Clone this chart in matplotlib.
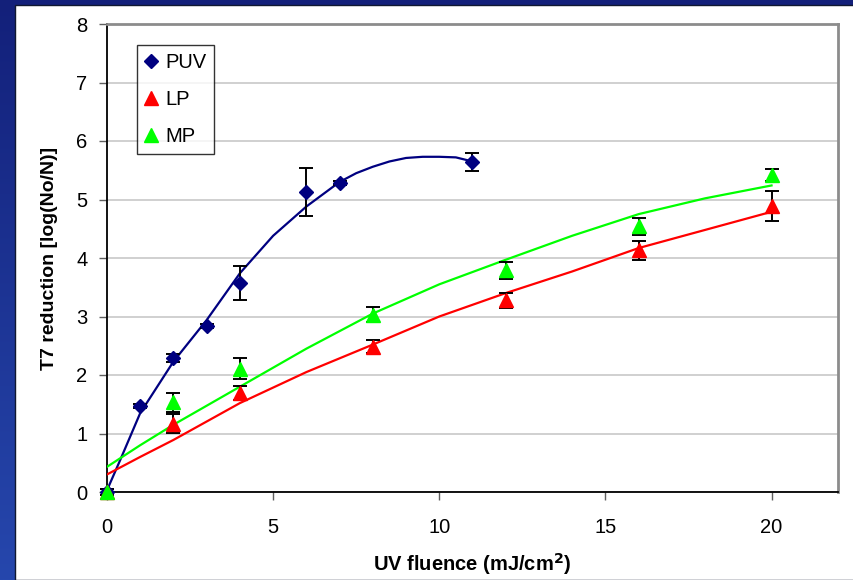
import numpy as np
import matplotlib
matplotlib.use("Agg")
import matplotlib.pyplot as plt
from matplotlib.patches import Rectangle
from matplotlib.colors import LinearSegmentedColormap

plt.rcParams['font.family'] = ['Liberation Sans', 'DejaVu Sans']

# Measured points (mean log reduction and error)
puv_x = [0, 1, 2, 3, 4, 6, 7, 11]
puv_y = [0.0, 1.47, 2.29, 2.84, 3.58, 5.12, 5.28, 5.64]
puv_err = [0.05, 0.04, 0.07, 0.04, 0.29, 0.41, 0.03, 0.15]

lp_x = [0, 2, 4, 8, 12, 16, 20]
lp_y = [0.0, 1.17, 1.69, 2.48, 3.28, 4.13, 4.89]
lp_err = [0.05, 0.16, 0.12, 0.11, 0.13, 0.16, 0.25]

mp_x = [0, 2, 4, 8, 12, 16, 20]
mp_y = [0.0, 1.53, 2.11, 3.03, 3.79, 4.54, 5.42]
mp_err = [0.05, 0.16, 0.18, 0.13, 0.15, 0.14, 0.10]

# Fitted model curves
puv_fit_x = [0, 0.4, 1, 2, 3, 4, 5, 6, 7, 7.5, 8, 8.5, 9, 9.5, 10, 10.5, 11]
puv_fit_y = [0.03, 0.55, 1.35, 2.23, 2.94, 3.74, 4.38, 4.88, 5.30, 5.45, 5.56, 5.65,
             5.71, 5.73, 5.73, 5.72, 5.65]

lp_fit_x = [0, 1, 2, 4, 6, 8, 10, 12, 14, 16, 18, 20]
lp_fit_y = [0.30, 0.60, 0.89, 1.52, 2.05, 2.52, 3.00, 3.40, 3.77, 4.17, 4.48, 4.79]

mp_fit_x = [0, 1, 2, 4, 6, 8, 10, 12, 14, 16, 18, 20]
mp_fit_y = [0.43, 0.80, 1.15, 1.80, 2.45, 3.05, 3.55, 3.97, 4.38, 4.75, 5.02, 5.24]

W, H = 854, 580
fig = plt.figure(figsize=(W / 100, H / 100), dpi=100)
fig.patch.set_facecolor('white')

# Blue slide frame with vertical gradient
bg = fig.add_axes([0, 0, 1, 1], zorder=-10)
grad = np.linspace(0, 1, 256).reshape(-1, 1)
cmap = LinearSegmentedColormap.from_list('frame', ['#13207a', '#2647ad'])
bg.imshow(grad, aspect='auto', cmap=cmap, extent=[0, 1, 0, 1], origin='upper')
bg.add_patch(Rectangle((15 / W, 0), 1, 1 - 5 / H, transform=bg.transAxes,
                       facecolor='white', edgecolor='#101830', linewidth=1.0))
bg.set_xlim(0, 1)
bg.set_ylim(0, 1)
bg.axis('off')

ax = fig.add_axes([107 / W, 1 - 492 / H, (838 - 107) / W, (492 - 24) / H])
ax.set_facecolor('white')

navy = '#000080'
red = '#FF0000'
green = '#00FF00'

ax.plot(puv_fit_x, puv_fit_y, color=navy, lw=1.6, zorder=3)
ax.plot(mp_fit_x, mp_fit_y, color=green, lw=1.6, zorder=3)
ax.plot(lp_fit_x, lp_fit_y, color=red, lw=1.6, zorder=3)

eb = dict(fmt='none', ecolor='black', elinewidth=1.4, capsize=5, capthick=1.4, zorder=4)
for xs, ys, es in ((puv_x, puv_y, puv_err), (lp_x, lp_y, lp_err), (mp_x, mp_y, mp_err)):
    cont = ax.errorbar(xs, ys, yerr=es, **eb)
    for art in list(cont.lines[1]) + list(cont.lines[2]):
        art.set_clip_on(False)

ax.plot(puv_x, puv_y, linestyle='none', marker='D', markersize=7.5, color=navy,
        markeredgecolor=navy, label='PUV', zorder=5, clip_on=False)
ax.plot(lp_x, lp_y, linestyle='none', marker='^', markersize=10, color=red,
        markeredgecolor=red, label='LP', zorder=5, clip_on=False)
ax.plot(mp_x, mp_y, linestyle='none', marker='^', markersize=10, color=green,
        markeredgecolor=green, label='MP', zorder=5, clip_on=False)

ax.set_xlim(0, 22)
ax.set_ylim(0, 8)
ax.set_xticks([0, 5, 10, 15, 20])
ax.set_yticks(range(0, 9))
ax.yaxis.grid(True, color='#c8c8c8', linewidth=1.2)
ax.set_axisbelow(True)

for side in ('top', 'right'):
    ax.spines[side].set_color('#8c8c8c')
    ax.spines[side].set_linewidth(2.0)
ax.spines['left'].set_color('black')
ax.spines['left'].set_linewidth(1.3)
ax.spines['bottom'].set_color('black')
ax.spines['bottom'].set_linewidth(1.3)

ax.tick_params(axis='y', direction='out', length=6, width=1.0, colors='#606060',
               labelcolor='black', labelsize=14.5, pad=8)
ax.tick_params(axis='x', direction='out', length=6, width=1.0, colors='#606060',
               labelcolor='black', labelsize=14.5, pad=13)

ax.set_ylabel('T7 reduction [log(No/N)]', fontsize=14, fontweight='bold', labelpad=13)
ax.set_xlabel('UV fluence (mJ/cm$^{\\mathbf{2}}$)', fontsize=14.5, fontweight='bold', labelpad=10)

leg = ax.legend(loc='upper left', bbox_to_anchor=((137 - 107) / (838 - 107), 1 - (45 - 24) / (492 - 24)),
                frameon=True, fancybox=False, fontsize=14.5, handlelength=0.6,
                handletextpad=0.4, borderpad=0.4, labelspacing=0.9, borderaxespad=0)
leg.get_frame().set_edgecolor('black')
leg.get_frame().set_linewidth(1.0)

fig.savefig('out.png', dpi=100)
